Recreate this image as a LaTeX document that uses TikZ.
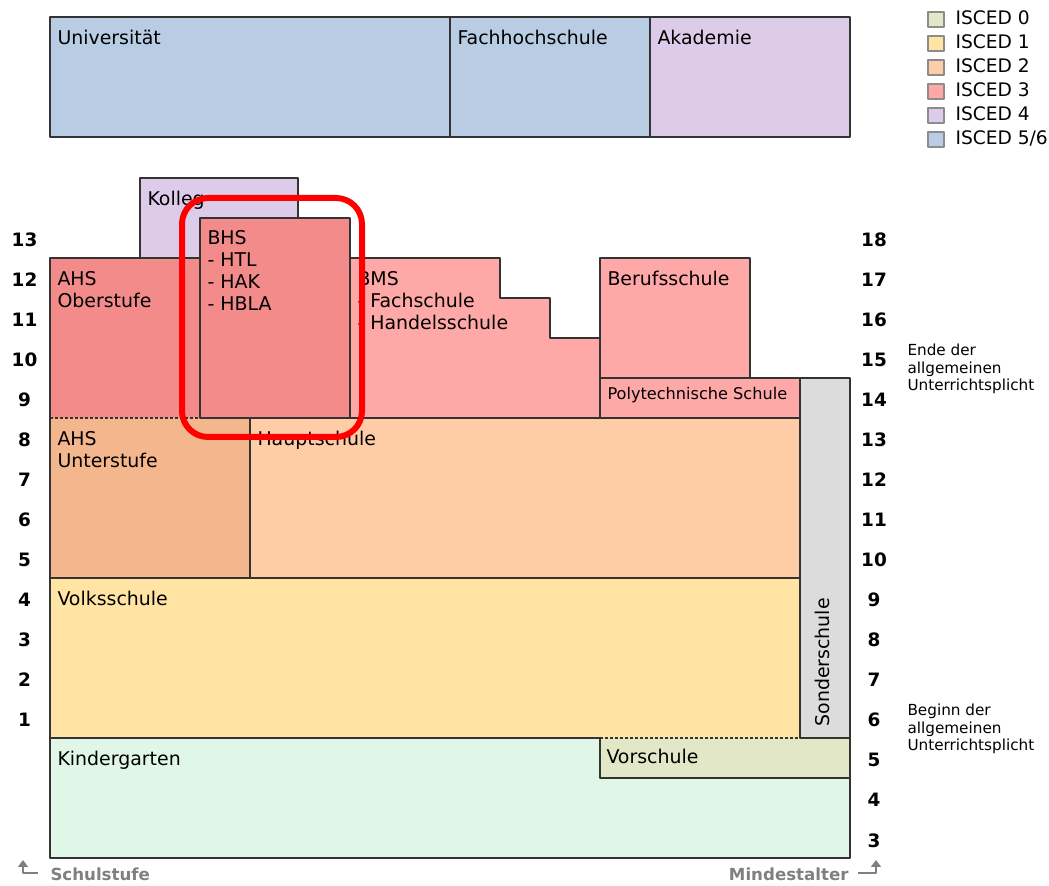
\documentclass[tikz,border=0pt]{standalone}
\usepackage{fontspec}
\setmainfont{DejaVu Sans}
\usepackage{color}
\usepackage{tikz}
\usetikzlibrary{arrows.meta}

\begin{document}
\begin{tikzpicture}[line join=bevel,
  boxline/.style={draw=strokecol, line width=1.8bp},
  dotline/.style={draw=strokecol, line width=1.4bp, dash pattern=on 2.5bp off 2.5bp},
  lbl/.style={anchor=north west, inner sep=0pt, align=left, font=\fontsize{19}{22}\selectfont},
  num/.style={anchor=base, inner sep=0pt, font=\fontsize{18.5}{20}\selectfont\bfseries},
  note/.style={anchor=north west, inner sep=0pt, align=left, font=\fontsize{15.3}{18}\selectfont},
  leg/.style={anchor=base west, inner sep=0pt, font=\fontsize{18.7}{20}\selectfont},
  legbox/.style={draw=legcol, line width=1.8bp},
  axislbl/.style={inner sep=0pt, text=axiscol, font=\fontsize{16.7}{18}\selectfont\bfseries},
  axisarrow/.style={draw=axiscol, line width=1.7bp, -{Triangle[width=10bp,length=7bp]}},
]
\pgfsetlinewidth{1bp}
\definecolor{strokecol}{rgb}{0.2,0.2,0.2}
\definecolor{legcol}{rgb}{0.55,0.55,0.55}
\definecolor{axiscol}{rgb}{0.5,0.5,0.5}
\definecolor{isced0}{rgb}{0.886,0.910,0.780}
\definecolor{isced1}{rgb}{1.0,0.894,0.639}
\definecolor{isced2}{rgb}{1.0,0.8,0.659}
\definecolor{isced2d}{rgb}{0.953,0.714,0.553}
\definecolor{isced3}{rgb}{1.0,0.659,0.659}
\definecolor{isced3d}{rgb}{0.953,0.545,0.545}
\definecolor{isced4}{rgb}{0.863,0.8,0.918}
\definecolor{isced56}{rgb}{0.722,0.804,0.894}
\definecolor{kigacol}{rgb}{0.878,0.969,0.910}
\definecolor{sondercol}{rgb}{0.863,0.863,0.863}
%%
\begin{scope}
\definecolor{fillcol}{rgb}{1.0,1.0,1.0};
\fill[fillcol] (0.0bp,0.0bp) rectangle (1049.0bp,886.0bp);
\useasboundingbox (0.0bp,0.0bp) rectangle (1049.0bp,886.0bp);
\end{scope}
% Node: Kindergarten
\begin{scope}
\fill[kigacol] (50bp,28bp) rectangle (850bp,148bp);
\draw[boxline] (600bp,148bp) -- (50bp,148bp) -- (50bp,28bp) -- (850bp,28bp) -- (850bp,148bp);
\draw (57bp,135bp) node[lbl] (kiga) {Kindergarten};
\end{scope}
% Node: Vorschule
\begin{scope}
\fill[isced0] (600bp,108bp) rectangle (850bp,148bp);
\draw[boxline] (600bp,148bp) -- (600bp,108bp) -- (850bp,108bp) -- (850bp,148bp) -- (800bp,148bp);
\draw[dotline] (600bp,148bp) -- (800bp,148bp);
\draw (606bp,137bp) node[lbl] (vor) {Vorschule};
\end{scope}
% Node: Volksschule
\begin{scope}
\fill[isced1] (50bp,148bp) rectangle (800bp,308bp);
\draw[boxline] (600bp,148bp) -- (50bp,148bp) -- (50bp,308bp) -- (800bp,308bp) -- (800bp,148bp);
\draw[dotline] (600bp,148bp) -- (800bp,148bp);
\draw (57bp,295bp) node[lbl] (volks) {Volksschule};
\end{scope}
% Node: Sonderschule
\begin{scope}
\filldraw[boxline, fill=sondercol] (800bp,148bp) rectangle (850bp,508bp);
\draw (829bp,159bp) node[lbl, anchor=base west, rotate=90] (sonder) {Sonderschule};
\end{scope}
% Node: AHS Unterstufe
\begin{scope}
\fill[isced2d] (50bp,308bp) rectangle (250bp,468bp);
\draw[boxline] (200bp,468bp) -- (250bp,468bp) -- (250bp,308bp) -- (50bp,308bp) -- (50bp,468bp);
\draw[dotline] (50bp,468bp) -- (200bp,468bp);
\draw (57bp,455bp) node[lbl] (ahsu) {AHS\\Unterstufe};
\end{scope}
% Node: Hauptschule
\begin{scope}
\filldraw[boxline, fill=isced2] (250bp,308bp) rectangle (800bp,468bp);
\draw (257bp,455bp) node[lbl] (haupt) {Hauptschule};
\end{scope}
% Node: AHS Oberstufe
\begin{scope}
\fill[isced3d] (50bp,468bp) rectangle (200bp,628bp);
\draw[boxline] (200bp,628bp) -- (50bp,628bp) -- (50bp,468bp);
\draw[dotline] (50bp,468bp) -- (200bp,468bp);
\draw (57bp,615bp) node[lbl] (ahso) {AHS\\Oberstufe};
\end{scope}
% Node: Kolleg
\begin{scope}
\filldraw[boxline, fill=isced4] (140bp,628bp) rectangle (298bp,708bp);
\draw (147bp,695bp) node[lbl] (kolleg) {Kolleg};
\end{scope}
% Node: BMS
\begin{scope}
\filldraw[boxline, fill=isced3] (350bp,628bp) -- (500bp,628bp) -- (500bp,588bp) -- (550bp,588bp) -- (550bp,548bp) -- (600bp,548bp) -- (600bp,468bp) -- (350bp,468bp) -- cycle;
\draw (357bp,615bp) node[lbl] (bms) {BMS\\- Fachschule\\- Handelsschule};
\end{scope}
% Node: BHS
\begin{scope}
\filldraw[boxline, fill=isced3d] (200bp,468bp) rectangle (350bp,668bp);
\draw (207bp,656bp) node[lbl] (bhs) {BHS\\- HTL\\- HAK\\- HBLA};
\end{scope}
% Node: Berufsschule
\begin{scope}
\filldraw[boxline, fill=isced3] (600bp,508bp) rectangle (750bp,628bp);
\draw (607bp,615bp) node[lbl] (beruf) {Berufsschule};
\end{scope}
% Node: Polytechnische Schule
\begin{scope}
\filldraw[boxline, fill=isced3] (600bp,468bp) rectangle (800bp,508bp);
\draw (607bp,499bp) node[lbl, font=\fontsize{16.2}{18}\selectfont] (poly) {Polytechnische Schule};
\end{scope}
% Node: Universitaet
\begin{scope}
\filldraw[boxline, fill=isced56] (50bp,749bp) rectangle (450bp,869bp);
\draw (57bp,856bp) node[lbl] (uni) {Universität};
\end{scope}
% Node: Fachhochschule
\begin{scope}
\filldraw[boxline, fill=isced56] (450bp,749bp) rectangle (650bp,869bp);
\draw (457bp,856bp) node[lbl] (fh) {Fachhochschule};
\end{scope}
% Node: Akademie
\begin{scope}
\filldraw[boxline, fill=isced4] (650bp,749bp) rectangle (850bp,869bp);
\draw (657bp,856bp) node[lbl] (akad) {Akademie};
\end{scope}
% Schulstufen
\draw (24.5bp,639bp) node[num] (s13) {13};
\draw (24.5bp,599bp) node[num] (s12) {12};
\draw (24.5bp,559bp) node[num] (s11) {11};
\draw (24.5bp,519bp) node[num] (s10) {10};
\draw (24.5bp,479bp) node[num] (s9) {9};
\draw (24.5bp,439bp) node[num] (s8) {8};
\draw (24.5bp,399bp) node[num] (s7) {7};
\draw (24.5bp,359bp) node[num] (s6) {6};
\draw (24.5bp,319bp) node[num] (s5) {5};
\draw (24.5bp,279bp) node[num] (s4) {4};
\draw (24.5bp,239bp) node[num] (s3) {3};
\draw (24.5bp,199bp) node[num] (s2) {2};
\draw (24.5bp,159bp) node[num] (s1) {1};
% Mindestalter
\draw (874bp,639bp) node[num] (a18) {18};
\draw (874bp,599bp) node[num] (a17) {17};
\draw (874bp,559bp) node[num] (a16) {16};
\draw (874bp,519bp) node[num] (a15) {15};
\draw (874bp,479bp) node[num] (a14) {14};
\draw (874bp,439bp) node[num] (a13) {13};
\draw (874bp,399bp) node[num] (a12) {12};
\draw (874bp,359bp) node[num] (a11) {11};
\draw (874bp,319bp) node[num] (a10) {10};
\draw (874bp,279bp) node[num] (a9) {9};
\draw (874bp,239bp) node[num] (a8) {8};
\draw (874bp,199bp) node[num] (a7) {7};
\draw (874bp,159bp) node[num] (a6) {6};
\draw (874bp,119bp) node[num] (a5) {5};
\draw (874bp,79bp) node[num] (a4) {4};
\draw (874bp,39bp) node[num] (a3) {3};
% Schulpflicht
\draw (907bp,543bp) node[note] (ende) {Ende der\\allgemeinen\\Unterrichtsplicht};
\draw (907bp,183bp) node[note] (beginn) {Beginn der\\allgemeinen\\Unterrichtsplicht};
% Achsen
\draw (50bp,6bp) node[axislbl, anchor=base west] (schulstufe) {Schulstufe};
\draw (849bp,6bp) node[axislbl, anchor=base east] (mindestalter) {Mindestalter};
\draw[axisarrow] (38bp,13bp) -- (23bp,13bp) -- (23bp,26bp);
\draw[axisarrow] (858bp,13bp) -- (876bp,13bp) -- (876bp,26bp);
% Legende
\filldraw[legbox, fill=isced0] (928bp,859bp) rectangle (944bp,874bp);
\draw (955bp,861bp) node[leg] (leg0) {ISCED 0};
\filldraw[legbox, fill=isced1] (928bp,835bp) rectangle (944bp,850bp);
\draw (955bp,837bp) node[leg] (leg1) {ISCED 1};
\filldraw[legbox, fill=isced2] (928bp,811bp) rectangle (944bp,826bp);
\draw (955bp,813bp) node[leg] (leg2) {ISCED 2};
\filldraw[legbox, fill=isced3] (928bp,787bp) rectangle (944bp,802bp);
\draw (955bp,789bp) node[leg] (leg3) {ISCED 3};
\filldraw[legbox, fill=isced4] (928bp,763bp) rectangle (944bp,778bp);
\draw (955bp,765bp) node[leg] (leg4) {ISCED 4};
\filldraw[legbox, fill=isced56] (928bp,739bp) rectangle (944bp,754bp);
\draw (955bp,741bp) node[leg] (leg56) {ISCED 5/6};
% Markierung BHS
\draw[red, line width=6bp, rounded corners=26bp] (182bp,449bp) rectangle (362bp,688bp);
%
\end{tikzpicture}
\end{document}
